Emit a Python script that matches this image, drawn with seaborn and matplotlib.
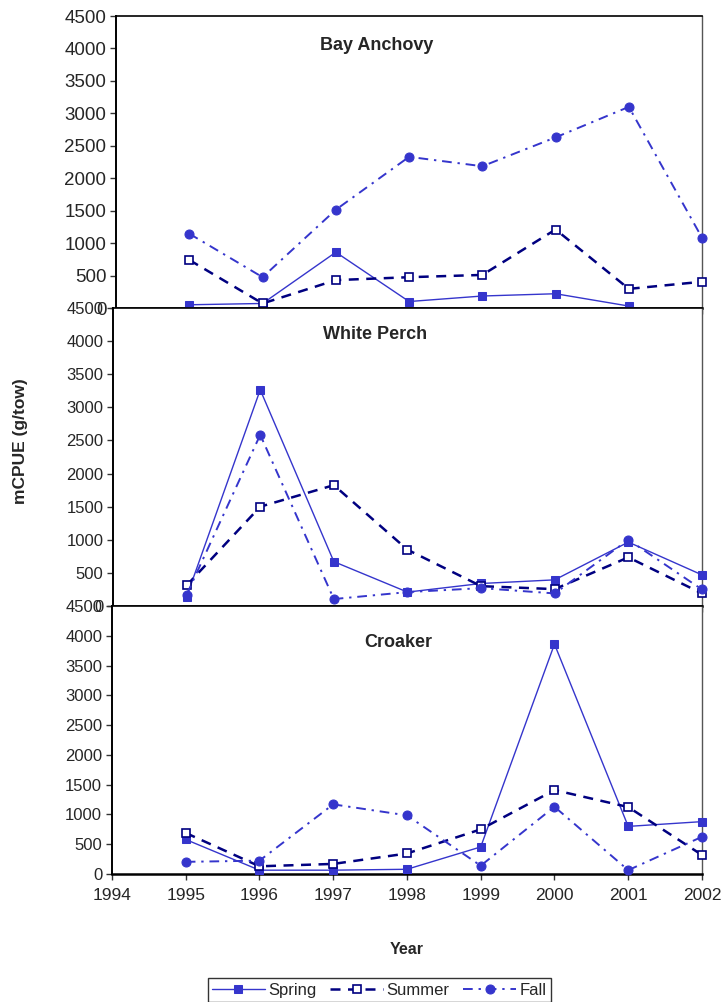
import matplotlib
matplotlib.use("Agg")
import matplotlib.pyplot as plt
import seaborn as sns
import pandas as pd

years = [1995, 1996, 1997, 1998, 1999, 2000, 2001, 2002]
species = ["Bay Anchovy", "White Perch", "Croaker"]
seasons = ["Spring", "Summer", "Fall"]

anchovy_spring = [50, 70, 860, 100, 185, 220, 30, None]
anchovy_summer = [740, 70, 430, 475, 510, 1210, 295, 405]
anchovy_fall = [1145, 475, 1515, 2330, 2185, 2630, 3100, 1080]

perch_spring = [140, 3265, 670, 210, 340, 395, 965, 470]
perch_summer = [310, 1500, 1825, 850, 300, 255, 735, 190]
perch_fall = [170, 2585, 105, 210, 270, 190, 1000, 250]

croaker_spring = [580, 65, 65, 80, 455, 3860, 800, 880]
croaker_summer = [690, 130, 170, 345, 750, 1410, 1125, 320]
croaker_fall = [205, 225, 1170, 985, 140, 1130, 65, 625]

y_ticks = [0, 500, 1000, 1500, 2000, 2500, 3000, 3500, 4000, 4500]
x_ticks = [1994, 1995, 1996, 1997, 1998, 1999, 2000, 2001, 2002]

data = {
    "Bay Anchovy": [anchovy_spring, anchovy_summer, anchovy_fall],
    "White Perch": [perch_spring, perch_summer, perch_fall],
    "Croaker": [croaker_spring, croaker_summer, croaker_fall],
}

sns.set_theme(style="white")
plt.rcParams["font.family"] = ["Liberation Sans", "DejaVu Sans"]

BLUE = "#3535CC"
NAVY = "#000080"
styles = {
    "Spring": dict(color=BLUE, marker="s", markersize=6, markerfacecolor=BLUE,
                   markeredgecolor=BLUE, linewidth=1.0, linestyle="-"),
    "Summer": dict(color=NAVY, marker="s", markersize=6, markerfacecolor="white",
                   markeredgecolor=NAVY, markeredgewidth=1.2, linewidth=1.8,
                   linestyle=(0, (4, 3))),
    "Fall": dict(color=BLUE, marker="o", markersize=6.5, markerfacecolor=BLUE,
                 markeredgecolor=BLUE, linewidth=1.4, linestyle=(0, (5, 3, 1.2, 3))),
}

fig = plt.figure(figsize=(7.21, 10.02), dpi=100)
positions = [
    [0.161, 0.6926, 0.8128, 0.2914],
    [0.1567, 0.3952, 0.8169, 0.2974],
    [0.1553, 0.1277, 0.8183, 0.2675],
]
title_pos = [(0.445, 0.90), (0.445, 0.91), (0.485, 0.862)]
ytick_size = [13.5, 12, 12]

axes = []
for i, sp in enumerate(species):
    ax = fig.add_axes(positions[i])
    axes.append(ax)
    for season, vals in zip(seasons, data[sp]):
        df = pd.DataFrame({"Year": years, "v": vals}).dropna()
        sns.lineplot(data=df, x="Year", y="v", ax=ax, label=season if i == 2 else None,
                     clip_on=False, zorder=3, **styles[season])
    ax.set_xlim(1994, 2002)
    ax.set_ylim(0, 4500)
    ax.set_yticks(y_ticks)
    ax.set_yticklabels([str(t) for t in y_ticks], fontsize=ytick_size[i])
    if i == 0:
        ax.set_xticks(x_ticks[::2])
        ax.set_xticklabels([])
    elif i == 1:
        ax.set_xticks(x_ticks)
        ax.set_xticklabels([])
    else:
        ax.set_xticks(x_ticks)
        ax.set_xticklabels([str(t) for t in x_ticks], fontsize=12.5)
    ax.tick_params(axis="both", direction="out", length=4, width=1, color="#333333",
                   bottom=True, left=True, pad=3)
    ax.tick_params(axis="x", pad=6)
    ax.set_xlabel("")
    ax.set_ylabel("")
    for s in ["left", "bottom", "top", "right"]:
        ax.spines[s].set_visible(True)
        ax.spines[s].set_color("black")
    ax.spines["left"].set_linewidth(1.4)
    ax.spines["bottom"].set_linewidth(1.8)
    ax.spines["top"].set_linewidth(1.2)
    ax.spines["right"].set_linewidth(1.0)
    ax.spines["right"].set_color("#555555")
    ax.text(title_pos[i][0], title_pos[i][1], sp, transform=ax.transAxes,
            ha="center", va="center", fontsize=13, fontweight="bold")
    if ax.get_legend() is not None:
        ax.get_legend().remove()

axes[2].set_xlabel("Year", fontsize=11.5, fontweight="bold", labelpad=28)
fig.text(0.028, 0.56, "mCPUE (g/tow)", rotation=90, ha="center", va="center",
         fontsize=12.5, fontweight="bold", fontstretch="condensed")

handles, labels = axes[2].get_legend_handles_labels()
leg = fig.legend(handles, labels, loc="lower center", bbox_to_anchor=(0.526, -0.008),
                 ncol=3, fontsize=12, frameon=True, fancybox=False, handlelength=3.2,
                 handletextpad=0.2, columnspacing=0.8, borderpad=0.25)
leg.get_frame().set_edgecolor("black")
leg.get_frame().set_linewidth(1.0)

fig.savefig("out.png", dpi=100)
